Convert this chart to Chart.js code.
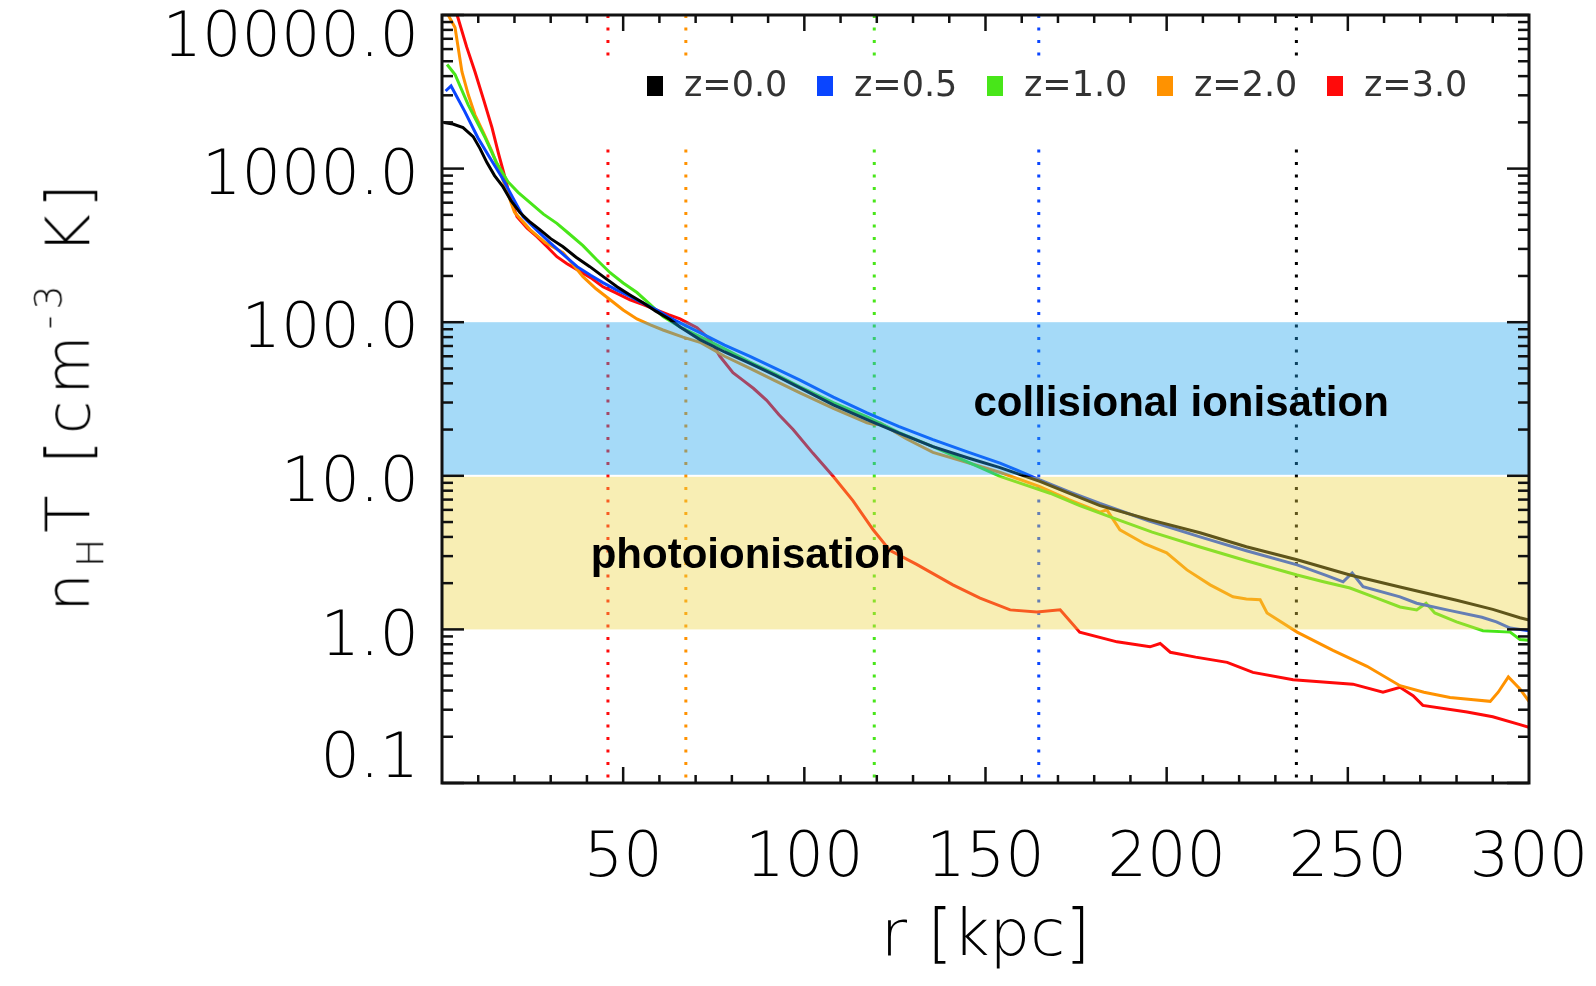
<!DOCTYPE html>
<html>
<head>
<meta charset="utf-8">
<title>nH T profiles</title>
<script src="https://cdn.jsdelivr.net/npm/chart.js@4.4.1/dist/chart.umd.min.js"></script>
<style>
  html,body{margin:0;padding:0;background:#fff;}
  #wrap{position:relative;width:1596px;height:986px;overflow:hidden;}
  #ytitle{position:absolute;left:70px;top:395px;transform:translate(-50%,-50%) rotate(-90deg);
    font:200 61px 'DejaVu Sans',sans-serif;color:#000;white-space:nowrap;letter-spacing:6px;line-height:1;}
  #ytitle sub{font-size:.62em;vertical-align:-.35em;}
  #ytitle sup{font-size:.62em;vertical-align:.75em;}
</style>
</head>
<body>
<div id="wrap">
  <canvas id="c" width="1596" height="986"></canvas>
  <div id="ytitle">n<sub>H</sub>T [cm<sup>-3</sup> K]</div>
</div>
<script>
/* ---- data: r [kpc] and nH*T [cm^-3 K] ---- */
const R_Z00  = [0.5,3,5.8,8.6,10.5,12.4,14.5,16.8,19,21.5,24,27,30,33.4,37,40.8,44.5,48.3,52,55.5,59,62.9,65.7,71.2,78,85,92,98.8,108,117.3,126,135.5,145,154,165,173,181.6,195,209.2,222,236,250.6,264.4,280,290,297.5,300];
const NT_Z00 = [1995,1950,1850,1615,1350,1094,900,763,620,517,455,401,350,310,265,230,198,170,150,134,118,104,93,77,64,54,45,37.4,29,23.2,19,15.5,13.1,11.3,9.2,7.7,6.4,5.2,4.26,3.45,2.84,2.26,1.89,1.55,1.35,1.19,1.15];

const R_Z05  = [1,2.5,6.3,9.9,13,16.6,19.5,22.4,26,29.8,33.5,37.3,41,44.4,48,51.9,55.5,59.3,62.5,65.7,71.2,78,85,92,98.8,108,117.3,126,135.5,145,154,158.7,165,173,181.6,195,209.2,222,236,244,248.7,251.2,254.2,264.4,269,278,287,291,294.8,300];
const NT_Z05 = [3200,3450,2350,1590,1200,872,650,486,400,330,275,230,202,181,163,147,133,120,108,99,85.5,71,60,50,42,32.5,25.7,21,17.2,14.3,12.1,10.9,9.4,7.9,6.6,5.1,4.0,3.25,2.63,2.25,2.04,2.33,1.9,1.63,1.48,1.33,1.2,1.12,1.02,0.98];

const R_Z10  = [1.4,3.6,7.2,9.5,11.9,15,18.2,21,24.3,28,31.7,35,38.9,42.5,46.4,50,53.8,57.5,61,65.7,71.2,78,85,92,98.8,108,117.3,126,135.5,145,154,158.7,167.8,176,184.4,196,209.2,222,236,243,250.6,258,264.4,269,271.6,274,280,287.3,294.8,297.5,300];
const NT_Z10 = [4760,4100,2610,2050,1590,1100,822,700,601,505,440,378,315,258,210,180,156,130,109,93,80.5,67,55,46,38,30,24.2,19.2,15.5,12.3,9.9,9.1,7.7,6.4,5.4,4.3,3.44,2.8,2.26,2.05,1.86,1.6,1.40,1.34,1.48,1.28,1.12,0.98,0.96,0.86,0.85];

const R_Z20  = [0.5,1.7,3.6,5.5,7.3,9.1,11.5,13.8,16.6,20,24.3,28.5,33.4,36,38.9,42.5,46.4,50,53.8,57.5,61,66.5,71.2,78,85,92,98.8,108,117.3,119.5,121,128,135.5,145,154.1,165,173,181.6,183.5,187.1,194,200,205.6,212,218.3,222,225.8,227.7,236,245.9,255.3,264.4,271,278.2,284,289.3,291.5,294.3,297.5,300];
const NT_Z20 = [16000,10000,8300,4270,3000,2240,1700,1290,872,520,401,330,284,240,198,165,140,120,105,96,89,80,74,60,50,41.5,34.7,27.5,22.1,21.5,22,17.5,14.2,12.2,10.5,8.5,7.0,5.8,6.0,4.45,3.6,3.15,2.44,1.95,1.63,1.58,1.56,1.28,0.96,0.73,0.575,0.43,0.39,0.36,0.35,0.34,0.39,0.49,0.41,0.34];

const R_Z30  = [2.5,4.4,6.8,9.1,11.5,13.8,15.6,17.4,19,20.7,23.5,26.2,29,31.7,34.5,37.3,41,44.4,48,51.9,55.5,59.3,62.5,65.7,68.2,70.4,74,76.7,80.3,83,86,89.6,93,96.9,102.4,108,113.4,119,123.6,131,141,148.5,156.8,164.2,170.6,176,186.3,195.4,198.2,201,208,216.7,223.8,234.9,245.9,251.4,259.7,264.4,268,270.7,282.9,290,297.5,300];
const NT_Z30 = [13000,9600,6200,4270,2800,1850,1250,872,620,486,410,360,310,267,240,220,195,170,155,140,130,120,112,105,98,92,77,60,47,42,37,31,25,20,14,9.9,6.9,4.45,3.27,2.65,1.95,1.6,1.34,1.30,1.34,0.96,0.83,0.77,0.81,0.71,0.66,0.61,0.525,0.47,0.45,0.44,0.39,0.42,0.37,0.32,0.29,0.27,0.24,0.23];

const Z_LABELS = ['z=0.0','z=0.5','z=1.0','z=2.0','z=3.0'];
const R_VIR    = [235.8,164.7,119.3,67.3,45.8];   // dotted verticals, same order as Z_LABELS
const VIR_TOP  = [10000,5300];                     // upper dotted piece (nH T)
const VIR_LOW  = [1330,0.1];                       // lower dotted piece
const BAND_LO  = [10,1];
const BAND_HI  = [100,10];
const BAND_TXT = ['collisional ionisation','photoionisation'];
const X_LABELS = [50,100,150,200,250,300];

/* ---- styles ---- */
const COLORS = ['#000000','#0a45ff','#48e619','#ff9200','#ff0a0a'];
const BAND_FILL = ['rgba(30,162,237,0.4)','rgba(237,212,67,0.4)'];
const TXT = '#000';
const FAM = "'DejaVu Sans', sans-serif";

const series=[[R_Z00,NT_Z00],[R_Z05,NT_Z05],[R_Z10,NT_Z10],[R_Z20,NT_Z20],[R_Z30,NT_Z30]];
const profiles=series.map(([r,v],i)=>({
  label:Z_LABELS[i], data:r.map((x,k)=>({x,y:v[k]})),
  borderColor:COLORS[i], borderWidth:3, pointRadius:0, tension:0, fill:false
}));
const virials=R_VIR.map((r,i)=>({
  label:'rvir '+Z_LABELS[i],
  data:[{x:r,y:VIR_TOP[0]},{x:r,y:VIR_TOP[1]},{x:r,y:null},{x:r,y:VIR_LOW[0]},{x:r,y:VIR_LOW[1]}],
  borderColor:COLORS[i], borderWidth:3, borderDash:[3,9.5], pointRadius:0, spanGaps:false, fill:false
}));

/* bands over the curves, labels, IDL-style frame with inward ticks, legend */
const decor={id:'decor',
  afterDatasetsDraw(ch){
    const {ctx,chartArea:a,scales:{x,y}}=ch;
    ctx.save();
    BAND_LO.forEach((lo,i)=>{
      const t=y.getPixelForValue(BAND_HI[i])+(i?1:0), b=y.getPixelForValue(lo)-(i?0:1);
      ctx.fillStyle=BAND_FILL[i]; ctx.fillRect(a.left,t,a.right-a.left,b-t);
    });
    ctx.fillStyle='#000'; ctx.font="bold 42px 'Liberation Sans', Arial, sans-serif";
    ctx.textAlign='center'; ctx.textBaseline='middle';
    ctx.fillText(BAND_TXT[0],x.getPixelForValue(204),y.getPixelForValue(29));
    ctx.fillText(BAND_TXT[1],x.getPixelForValue(84.5),y.getPixelForValue(3));

    ctx.strokeStyle='#111'; ctx.lineWidth=2.5;
    const ln=(x1,y1,x2,y2)=>{ctx.beginPath();ctx.moveTo(x1,y1);ctx.lineTo(x2,y2);ctx.stroke();};
    for(let r=10;r<300;r+=10){
      const p=x.getPixelForValue(r), L=r%50?8:16;
      ln(p,a.bottom,p,a.bottom-L); ln(p,a.top,p,a.top+L);
    }
    for(let d=0.1;d<=10000*1.01;d*=10){
      for(let k=1;k<10;k++){
        const v=d*k; if(v>10000*1.001) break;
        const p=y.getPixelForValue(v), L=k===1?22:11;
        ln(a.left,p,a.left+L,p); ln(a.right,p,a.right-L,p);
      }
    }
    ctx.lineWidth=3; ctx.strokeStyle='#111';
    ctx.strokeRect(a.left,a.top,a.right-a.left,a.bottom-a.top);

    // legend
    ctx.font="35px "+FAM; ctx.textAlign='left'; ctx.textBaseline='middle';
    Z_LABELS.forEach((lab,i)=>{
      const lx=a.left+205+i*170, ly=a.top+71;
      ctx.fillStyle=COLORS[i]; ctx.fillRect(lx,ly-10,16,20);
      ctx.fillStyle='#333'; ctx.fillText(lab,lx+37,ly+1);
    });
    ctx.restore();
  }
};

new Chart(document.getElementById('c'),{
  type:'line',
  data:{datasets:[...profiles,...virials]},
  options:{
    responsive:false, animation:false, events:[],
    layout:{padding:{top:15,right:67,left:0,bottom:0}},
    plugins:{legend:{display:false},tooltip:{enabled:false}},
    scales:{
      x:{type:'linear',min:0,max:300,
        afterFit:s=>{s.height=203;s.paddingLeft=0;s.paddingRight=0;},
        grid:{display:false,drawTicks:false},border:{display:false},
        ticks:{stepSize:50,autoSkip:false,maxRotation:0,padding:40,color:TXT,font:{family:FAM,size:62,weight:200},
          callback:v=>X_LABELS.includes(v)?String(v):''},
        title:{display:true,text:'r [kpc]',color:TXT,font:{family:FAM,size:64,weight:200},padding:{top:0,bottom:9}}},
      y:{type:'logarithmic',min:0.1,max:10000,
        afterFit:s=>{s.width=442;s.paddingTop=0;s.paddingBottom=0;},
        grid:{display:false,drawTicks:false},border:{display:false},
        ticks:{autoSkip:false,padding:23,labelOffset:9,color:TXT,font:{family:FAM,size:62,weight:200,lineHeight:0.5},
          callback:v=>{
            const e=Math.log10(v), n=Math.round(e);
            if(Math.abs(e-n)>1e-6) return '';
            const s=v.toFixed(1);
            if(n===4) return ['',s];
            if(n===-1) return [s,'',''];
            return s;
          }}}
    }
  },
  plugins:[decor]
});
</script>
</body>
</html>
